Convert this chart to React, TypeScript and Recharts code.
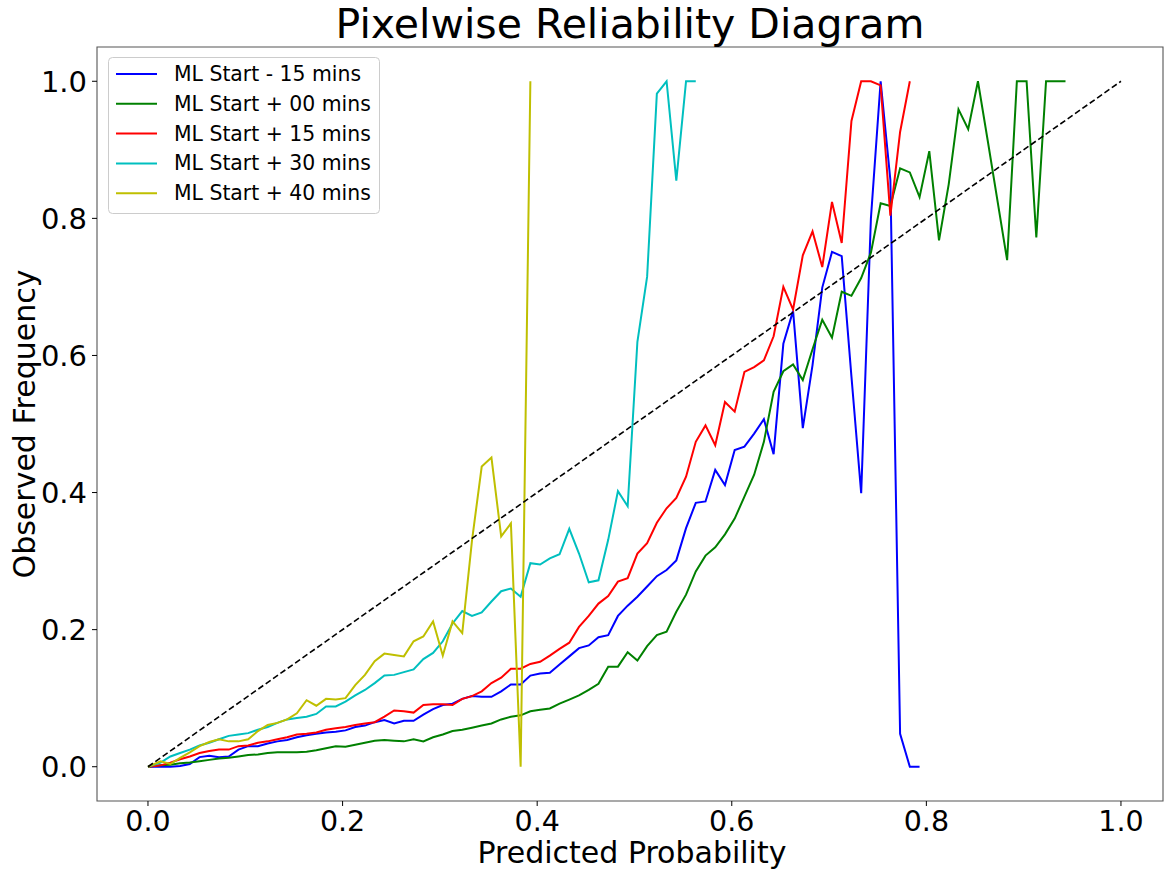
import { LineChart, Line, XAxis, YAxis, ReferenceLine, ReferenceArea } from 'recharts'

const FONT = '"DejaVu Sans", sans-serif'

// mean predicted probability of each bin (first point pinned at the origin)
const BINS = [
  0, 0.013, 0.023, 0.033, 0.043, 0.053, 0.063, 0.073, 0.083, 0.093,
  0.103, 0.113, 0.123, 0.133, 0.143, 0.153, 0.163, 0.173, 0.183, 0.193,
  0.203, 0.213, 0.223, 0.233, 0.243, 0.253, 0.263, 0.273, 0.283, 0.293,
  0.303, 0.313, 0.323, 0.333, 0.343, 0.353, 0.363, 0.373, 0.383, 0.393,
  0.403, 0.413, 0.423, 0.433, 0.443, 0.453, 0.463, 0.473, 0.483, 0.493,
  0.503, 0.513, 0.523, 0.533, 0.543, 0.553, 0.563, 0.573, 0.583, 0.593,
  0.603, 0.613, 0.623, 0.633, 0.643, 0.653, 0.663, 0.673, 0.683, 0.693,
  0.703, 0.713, 0.723, 0.733, 0.743, 0.753, 0.763, 0.773, 0.783, 0.793,
  0.803, 0.813, 0.823, 0.833, 0.843, 0.853, 0.863, 0.873, 0.883, 0.893,
  0.903, 0.913, 0.923, 0.933, 0.943,
]

const START_M15 = [
  0, 0, 0, 0.001, 0.004, 0.014, 0.016, 0.014, 0.015, 0.025,
  0.03, 0.03, 0.034, 0.037, 0.039, 0.043, 0.046, 0.048, 0.05, 0.051,
  0.053, 0.058, 0.06, 0.065, 0.068, 0.063, 0.067, 0.067, 0.076, 0.084,
  0.09, 0.092, 0.099, 0.103, 0.102, 0.102, 0.11, 0.12, 0.12, 0.133,
  0.136, 0.137, 0.149, 0.161, 0.173, 0.177, 0.189, 0.192, 0.22, 0.235,
  0.248, 0.263, 0.278, 0.287, 0.301, 0.348, 0.385, 0.387, 0.433, 0.411,
  0.462, 0.467, 0.486, 0.507, 0.456, 0.617, 0.665, 0.494, 0.586, 0.699,
  0.751, 0.745, 0.569, 0.399, 0.8, 1.0, 0.856, 0.048, 0, 0,
]

const START_P00 = [
  0, 0.002, 0.003, 0.005, 0.006, 0.008, 0.01, 0.012, 0.013, 0.015,
  0.017, 0.018, 0.02, 0.021, 0.021, 0.021, 0.022, 0.024, 0.027, 0.03,
  0.029, 0.032, 0.035, 0.038, 0.039, 0.038, 0.037, 0.04, 0.037, 0.043,
  0.047, 0.052, 0.054, 0.057, 0.06, 0.063, 0.069, 0.073, 0.075, 0.081,
  0.083, 0.085, 0.092, 0.098, 0.104, 0.112, 0.121, 0.146, 0.146, 0.167,
  0.155, 0.176, 0.192, 0.197, 0.226, 0.251, 0.285, 0.308, 0.32, 0.339,
  0.362, 0.394, 0.426, 0.474, 0.547, 0.577, 0.587, 0.564, 0.609, 0.652,
  0.626, 0.693, 0.687, 0.713, 0.75, 0.822, 0.818, 0.873, 0.867, 0.831,
  0.898, 0.768, 0.85, 0.959, 0.93, 1.0, 0.914, null, 0.739, 1.0,
  1.0, 0.772, 1.0, 1.0, 1.0,
]

const START_P15 = [
  0, 0.002, 0.006, 0.011, 0.015, 0.02, 0.023, 0.025, 0.025, 0.03,
  0.031, 0.035, 0.037, 0.04, 0.043, 0.047, 0.048, 0.05, 0.054, 0.056,
  0.058, 0.061, 0.063, 0.065, 0.073, 0.082, 0.081, 0.079, 0.09, 0.091,
  0.091, 0.09, 0.099, 0.103, 0.11, 0.122, 0.13, 0.143, 0.143, 0.15,
  0.153, 0.162, 0.172, 0.181, 0.204, 0.22, 0.238, 0.249, 0.27, 0.275,
  0.311, 0.326, 0.356, 0.377, 0.392, 0.423, 0.474, 0.498, 0.469, 0.532,
  0.518, 0.576, 0.583, 0.593, 0.628, 0.7, 0.667, 0.746, 0.781, 0.729,
  0.824, 0.764, 0.942, 1.0, 1.0, 0.994, 0.804, 0.926, 1.0,
]

const START_P30 = [
  0, 0.006, 0.015, 0.02, 0.025, 0.031, 0.035, 0.04, 0.045, 0.047,
  0.049, 0.054, 0.058, 0.064, 0.069, 0.071, 0.073, 0.077, 0.088, 0.088,
  0.095, 0.104, 0.112, 0.122, 0.133, 0.134, 0.138, 0.142, 0.157, 0.166,
  0.183, 0.209, 0.227, 0.22, 0.225, 0.241, 0.256, 0.26, 0.248, 0.297,
  0.295, 0.304, 0.31, 0.347, 0.311, 0.269, 0.272, 0.331, 0.402, 0.38,
  0.62, 0.715, 0.982, 1.0, 0.855, 1.0, 1.0,
]

const START_P40 = [
  0, 0.008, 0.004, 0.013, 0.021, 0.03, 0.036, 0.04, 0.037, 0.037,
  0.04, 0.052, 0.061, 0.064, 0.069, 0.078, 0.097, 0.089, 0.099, 0.098,
  0.1, 0.119, 0.134, 0.154, 0.165, 0.163, 0.161, 0.183, 0.19, 0.212,
  0.162, 0.212, 0.195, 0.33, 0.438, 0.451, 0.336, 0.355, 0, 1.0,
]

const X_TICKS = [0, 0.2, 0.4, 0.6, 0.8, 1.0]
const Y_TICKS = [0, 0.2, 0.4, 0.6, 0.8, 1.0]
const X_DOMAIN = [-0.0524, 1.0432]
const Y_DOMAIN = [-0.05, 1.05]

const SERIES = [
  { key: 'm15', name: 'ML Start - 15 mins', color: '#0000ff', values: START_M15 },
  { key: 'p00', name: 'ML Start + 00 mins', color: '#008000', values: START_P00 },
  { key: 'p15', name: 'ML Start + 15 mins', color: '#ff0000', values: START_P15 },
  { key: 'p30', name: 'ML Start + 30 mins', color: '#00bfbf', values: START_P30 },
  { key: 'p40', name: 'ML Start + 40 mins', color: '#bfbf00', values: START_P40 },
]

const rows = BINS.map((p, i) => {
  const row: Record<string, number | null> = { p }
  SERIES.forEach((s) => {
    row[s.key] = s.values[i] ?? null
  })
  return row
})

function XTick({ x, y, payload }: { x: number; y: number; payload: { value: number } }) {
  return (
    <text x={x} y={y + 23} textAnchor="middle" fontSize={28.5} fontFamily={FONT} fill="#000">
      {payload.value.toFixed(1)}
    </text>
  )
}

function YTick({ x, y, payload }: { x: number; y: number; payload: { value: number } }) {
  return (
    <text x={x} y={y + 10.5} textAnchor="end" fontSize={29} fontFamily={FONT} fill="#000">
      {payload.value.toFixed(1)}
    </text>
  )
}

export default function App() {
  return (
    <div style={{ position: 'absolute', left: 0, top: 0, width: 1164, height: 869, background: '#fff' }}>
      <LineChart width={1164} height={869} data={rows} margin={{ top: 47, right: 1, bottom: 0, left: 0 }}>
        <XAxis
          dataKey="p"
          type="number"
          domain={X_DOMAIN}
          ticks={X_TICKS}
          allowDataOverflow
          axisLine={false}
          tickLine={{ stroke: '#000' }}
          tickSize={5}
          tickMargin={2}
          height={68}
          tick={XTick as never}
        />
        <YAxis
          type="number"
          domain={Y_DOMAIN}
          ticks={Y_TICKS}
          allowDataOverflow
          axisLine={false}
          tickLine={{ stroke: '#000' }}
          tickSize={5}
          tickMargin={5}
          width={97}
          tick={YTick as never}
        />
        <ReferenceArea
          x1={X_DOMAIN[0]}
          x2={X_DOMAIN[1]}
          y1={Y_DOMAIN[0]}
          y2={Y_DOMAIN[1]}
          fill="none"
          fillOpacity={0}
          stroke="#555"
          strokeWidth={1.1}
          ifOverflow="visible"
        />
        {SERIES.map((s) => (
          <Line
            key={s.key}
            type="linear"
            dataKey={s.key}
            name={s.name}
            stroke={s.color}
            strokeWidth={2}
            dot={false}
            connectNulls
            isAnimationActive={false}
          />
        ))}
        <ReferenceLine
          segment={[{ x: 0, y: 0 }, { x: 1, y: 1 }]}
          stroke="#000"
          strokeWidth={1.6}
          strokeDasharray="6 3"
          ifOverflow="visible"
        />
      </LineChart>
      <svg
        width={1164}
        height={869}
        style={{ position: 'absolute', left: 0, top: 0, pointerEvents: 'none' }}
        fontFamily={FONT}
      >
        <text x={630} y={38} textAnchor="middle" fontSize={41} fill="#000">
          Pixelwise Reliability Diagram
        </text>
        <text x={632} y={863} textAnchor="middle" fontSize={30} fill="#000">
          Predicted Probability
        </text>
        <text x={35} y={424} transform="rotate(-90 35 424)" textAnchor="middle" fontSize={30} fill="#000">
          Observed Frequency
        </text>
        <rect x={108.5} y={57.5} width={271} height={156} rx={4} fill="#fff" fillOpacity={0.8} stroke="#ccc" />
        {SERIES.map((s, i) => (
          <g key={s.key}>
            <line x1={116} x2={157} y1={74 + i * 29.8} y2={74 + i * 29.8} stroke={s.color} strokeWidth={2} />
            <text x={174} y={81 + i * 29.8} fontSize={20.4} fill="#000">
              {s.name}
            </text>
          </g>
        ))}
      </svg>
    </div>
  )
}
